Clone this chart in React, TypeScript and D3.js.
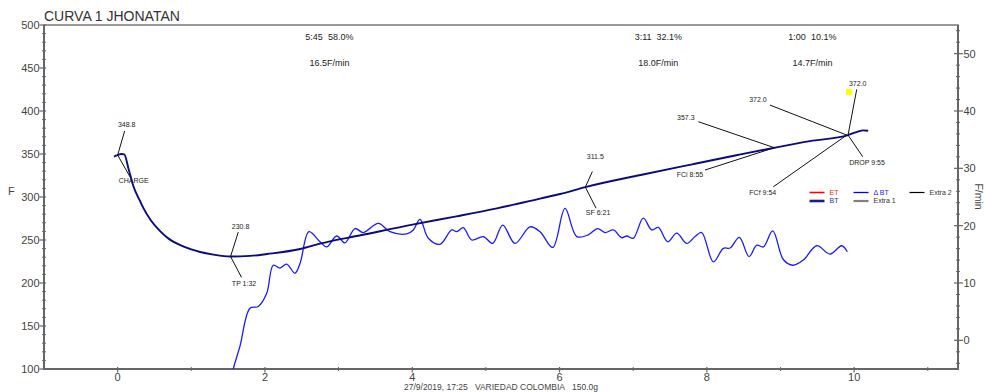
import React from "react";
import * as d3 from "d3";

// ---------- data ----------
const TITLE = "CURVA 1 JHONATAN";
const FOOTER = "27/9/2019, 17:25\u00a0\u00a0\u00a0VARIEDAD COLOMBIA\u00a0\u00a0\u00a0150.0g";

// BT curve (time in minutes, temp in F)
const btTime = [-0.05, 0, 0.05, 0.09, 0.15, 0.22, 0.3, 0.35, 0.45, 0.58, 0.7, 0.85, 1.0, 1.12, 1.3, 1.53, 1.8, 2.03, 2.48, 2.76, 3.3, 4.02, 4.6, 5.15, 5.75, 6.01, 6.35, 7.1, 7.8, 8.4, 8.917, 9.4, 9.917, 10.05, 10.12, 10.19];
const btTemp = [347, 348.8, 350, 349.5, 332, 311, 296, 287, 273, 260, 251, 244, 239, 236, 233, 230.8, 231.5, 233.7, 239.5, 246, 255.5, 268.2, 277.5, 286.8, 298.4, 303.5, 311.5, 325.6, 338, 348.5, 357.3, 365, 372.0, 376, 377.5, 377];

// Delta BT curve (time in minutes, F/min)
const dbtTime = [1.52, 1.57, 1.661, 1.797, 1.91, 2.024, 2.113, 2.204, 2.295, 2.408, 2.476, 2.598, 2.747, 2.838, 2.974, 3.087, 3.222, 3.335, 3.539, 3.698, 3.925, 4.014, 4.105, 4.218, 4.377, 4.536, 4.604, 4.693, 4.807, 4.965, 5.092, 5.228, 5.395, 5.599, 5.735, 5.907, 6.074, 6.233, 6.39, 6.518, 6.617, 6.73, 6.844, 6.912, 7.001, 7.137, 7.251, 7.341, 7.468, 7.591, 7.727, 7.839, 7.93, 8.088, 8.224, 8.315, 8.441, 8.573, 8.677, 8.767, 8.894, 9.038, 9.166, 9.31, 9.492, 9.672, 9.831, 9.907];
const dbtValue = [-8, -5, -1, 5.6, 5.9, 8.2, 13.1, 12.6, 13.3, 11.7, 13.4, 18.95, 17.2, 16.3, 18.2, 17.0, 19.5, 18.8, 20.4, 18.95, 18.55, 19.25, 21.1, 17.8, 16.75, 19.25, 18.95, 19.65, 17.5, 18.1, 16.9, 20.1, 16.9, 19.8, 18.95, 16.2, 23.0, 18.1, 18.4, 19.5, 18.8, 19.25, 17.9, 18.2, 17.8, 21.3, 19.25, 19.7, 17.2, 18.7, 16.9, 18.1, 18.8, 13.7, 16.05, 16.1, 17.97, 14.6, 16.6, 16.3, 19.1, 14.1, 13.1, 14.0, 16.5, 15.05, 16.5, 15.45];

// events
const eventTimes = [0, 1.533, 6.35, 8.917, 9.9, 9.917];
const eventTemps = [348.8, 230.8, 311.5, 357.3, 372.0, 372.0];
const eventValueLabels = ["348.8", "230.8", "311.5", "357.3", "372.0", "372.0"];
const eventNameLabels = ["CHARGE", "TP 1:32", "SF 6:21", "FCi 8:55", "FCf 9:54", "DROP 9:55"];

// phases
const phaseStarts = [0, 5.75, 8.933];
const phaseEnds = [5.75, 8.933, 9.933];
const phaseTimeLabels = ["5:45\u00a0\u00a058.0%", "3:11\u00a0\u00a032.1%", "1:00\u00a0\u00a010.1%"];
const phaseRateLabels = ["16.5F/min", "18.0F/min", "14.7F/min"];

// axes ticks
const leftTicks = [100, 150, 200, 250, 300, 350, 400, 450, 500];
const rightTicks = [0, 10, 20, 30, 40, 50];
const xTicks = [0, 2, 4, 6, 8, 10];

// legend
const legendNames = ["ET", "BT", "\u0394 BT", "Extra 1", "Extra 2"];

// ---------- layout / style ----------
const W = 985, H = 392;
const PL = 44, PR = 958, PT = 25, PB = 369;
const FONT = "'Liberation Sans', Arial, Helvetica, sans-serif";
const AXIS = "#666";
const TXT = "#444";
const BT_COLOR = "#0a0a80";
const DBT_COLOR = "#1a1aff";

// annotation offsets: [upLineDx, upLineDy, upTextDx, upTextDy, downLineDx, downLineDy, downTextDx, downTextDy]
const annOffsets = [
  [7, -24, 9, -28, 12.5, 22, 16, 28],
  [7.7, -24.4, 10, -28, 11, 21, 13.5, 29],
  [7, -15.5, 10, -28, 10.7, 21, 12.7, 28],
  [-76, -26, -88.6, -28, -69.4, 22.3, -84.4, 29],
  [-76.8, -30, -88.8, -33, -73.5, 51.7, -84, 59.5],
  [8.7, -45.7, 9.7, -49.5, 14.7, 21.7, 19, 29.5],
];
const legendStyles = [
  { color: "#ff0000", text: "#ff2020", width: 1.6, col: 0, row: 0 },
  { color: "#1c1c8c", text: "#3030a0", width: 2.6, col: 0, row: 1 },
  { color: "#0000ff", text: "#2020ff", width: 1.3, col: 1, row: 0 },
  { color: "#808080", text: "#333", width: 2.2, col: 1, row: 1 },
  { color: "#000", text: "#333", width: 1.2, col: 2, row: 0 },
];
const legendColX = [809.5, 853.5, 909.5];
const legendRowY = [192.5, 201];

export default function App() {
  const x = d3.scaleLinear().domain([-1, 11.41]).range([PL, PR]);
  const yL = d3.scaleLinear().domain([100, 500]).range([PB, PT]);
  const yR = d3.scaleLinear().domain([-5, 55]).range([PB, PT]);

  const btData = btTime.map((t, i) => [t, btTemp[i]] as [number, number]);
  const dbtData = dbtTime.map((t, i) => [t, dbtValue[i]] as [number, number]);

  const btLine = d3.line<[number, number]>().x(d => x(d[0])).y(d => yL(d[1])).curve(d3.curveMonotoneX);
  const dbtLine = d3.line<[number, number]>().x(d => x(d[0])).y(d => yR(d[1])).curve(d3.curveCatmullRom.alpha(0.5));

  const leftMinor = d3.range(100, 501, 10).filter(v => v % 50 !== 0);
  const rightMinor = d3.range(-4, 55, 2).filter(v => v % 10 !== 0);
  const xMinor = [1, 3, 5, 7, 9, 11];

  return (
    <svg width={W} height={H} style={{ position: "absolute", left: 0, top: 0, display: "block", background: "#fff" }} fontFamily={FONT}>
      <defs>
        <clipPath id="plotclip">
          <rect x={PL} y={PT} width={PR - PL} height={PB - PT} />
        </clipPath>
      </defs>

      {/* title */}
      <text x={44} y={21} fontSize={14} fill="#333">{TITLE}</text>

      {/* frame */}
      <rect x={PL} y={PT} width={PR - PL} height={PB - PT} fill="none" stroke={AXIS} strokeWidth={1.3} />
      <line x1={PL} x2={PL} y1={PT} y2={PB + 1} stroke={AXIS} strokeWidth={2} />
      <line x1={PL - 1} x2={PR + 1} y1={PB} y2={PB} stroke={AXIS} strokeWidth={2} />
      <line x1={PR} x2={PR} y1={PT} y2={PB + 1} stroke={AXIS} strokeWidth={2} />

      {/* left axis */}
      {leftMinor.map(v => (
        <line key={"lm" + v} x1={PL - 2} x2={PL + 2} y1={yL(v)} y2={yL(v)} stroke={AXIS} strokeWidth={1} />
      ))}
      {leftTicks.map(v => (
        <g key={"lt" + v}>
          <line x1={PL - 4.5} x2={PL + 2} y1={yL(v)} y2={yL(v)} stroke={AXIS} strokeWidth={1.2} />
          <text x={PL - 4.5} y={yL(v)} dy="0.35em" textAnchor="end" fontSize={11} fill={TXT}>{v}</text>
        </g>
      ))}
      <text x={8} y={195} fontSize={11} fill={TXT}>F</text>

      {/* right axis */}
      {rightMinor.map(v => (
        <line key={"rm" + v} x1={PR - 2} x2={PR + 2} y1={yR(v)} y2={yR(v)} stroke={AXIS} strokeWidth={1} />
      ))}
      {rightTicks.map(v => (
        <g key={"rt" + v}>
          <line x1={PR - 4} x2={PR + 5} y1={yR(v)} y2={yR(v)} stroke={AXIS} strokeWidth={1.2} />
          <text x={PR + 5.5} y={yR(v)} dy="0.35em" fontSize={11} fill={TXT}>{v}</text>
        </g>
      ))}
      <text transform={`translate(975,${196.5}) rotate(90)`} textAnchor="middle" fontSize={10.5} fill={TXT}>F/min</text>

      {/* bottom axis */}
      {xMinor.map(v => (
        <line key={"xm" + v} x1={x(v)} x2={x(v)} y1={PB - 2} y2={PB + 2} stroke={AXIS} strokeWidth={1} />
      ))}
      {xTicks.map(v => (
        <g key={"xt" + v}>
          <line x1={x(v)} x2={x(v)} y1={PB - 2} y2={PB + 3.5} stroke={AXIS} strokeWidth={1.2} />
          <text x={x(v)} y={381} textAnchor="middle" fontSize={11} fill={TXT}>{v}</text>
        </g>
      ))}
      <text x={501} y={389.5} textAnchor="middle" fontSize={8.5} fill={TXT}>{FOOTER}</text>

      {/* phases */}
      {phaseStarts.map((s, i) => {
        const cx = x((s + phaseEnds[i]) / 2);
        return (
          <g key={"ph" + i} fontSize={9} fill="#222" textAnchor="middle">
            <text x={cx} y={40}>{phaseTimeLabels[i]}</text>
            <text x={cx} y={65.5}>{phaseRateLabels[i]}</text>
          </g>
        );
      })}

      {/* curves */}
      <g clipPath="url(#plotclip)">
        <path d={dbtLine(dbtData) || ""} fill="none" stroke={DBT_COLOR} strokeWidth={1.3} />
        <path d={btLine(btData) || ""} fill="none" stroke={BT_COLOR} strokeWidth={1.9} />
      </g>

      {/* annotations */}
      {eventTimes.map((t, i) => {
        const px = x(t), py = yL(eventTemps[i]);
        const o = annOffsets[i];
        return (
          <g key={"ev" + i} fontSize={7} fill="#222">
            <line x1={px} y1={py} x2={px + o[0]} y2={py + o[1]} stroke="#111" strokeWidth={1} />
            <line x1={px} y1={py} x2={px + o[4]} y2={py + o[5]} stroke="#111" strokeWidth={1} />
            <text x={px + o[2]} y={py + o[3]} textAnchor="middle">{eventValueLabels[i]}</text>
            <text x={px + o[6]} y={py + o[7]} textAnchor="middle">{eventNameLabels[i]}</text>
          </g>
        );
      })}
      {/* yellow marker near drop */}
      <rect x={x(eventTimes[5]) - 2} y={yL(eventTemps[5]) - 46} width={6} height={6} fill="#ffff00" />

      {/* legend */}
      {legendNames.map((n, i) => {
        const s = legendStyles[i];
        const lx = legendColX[s.col], ly = legendRowY[s.row];
        return (
          <g key={"lg" + i}>
            <line x1={lx} x2={lx + 15} y1={ly} y2={ly} stroke={s.color} strokeWidth={s.width} />
            <text x={lx + 20} y={ly} dy="0.35em" fontSize={7} fill={s.text}>{n}</text>
          </g>
        );
      })}
    </svg>
  );
}
